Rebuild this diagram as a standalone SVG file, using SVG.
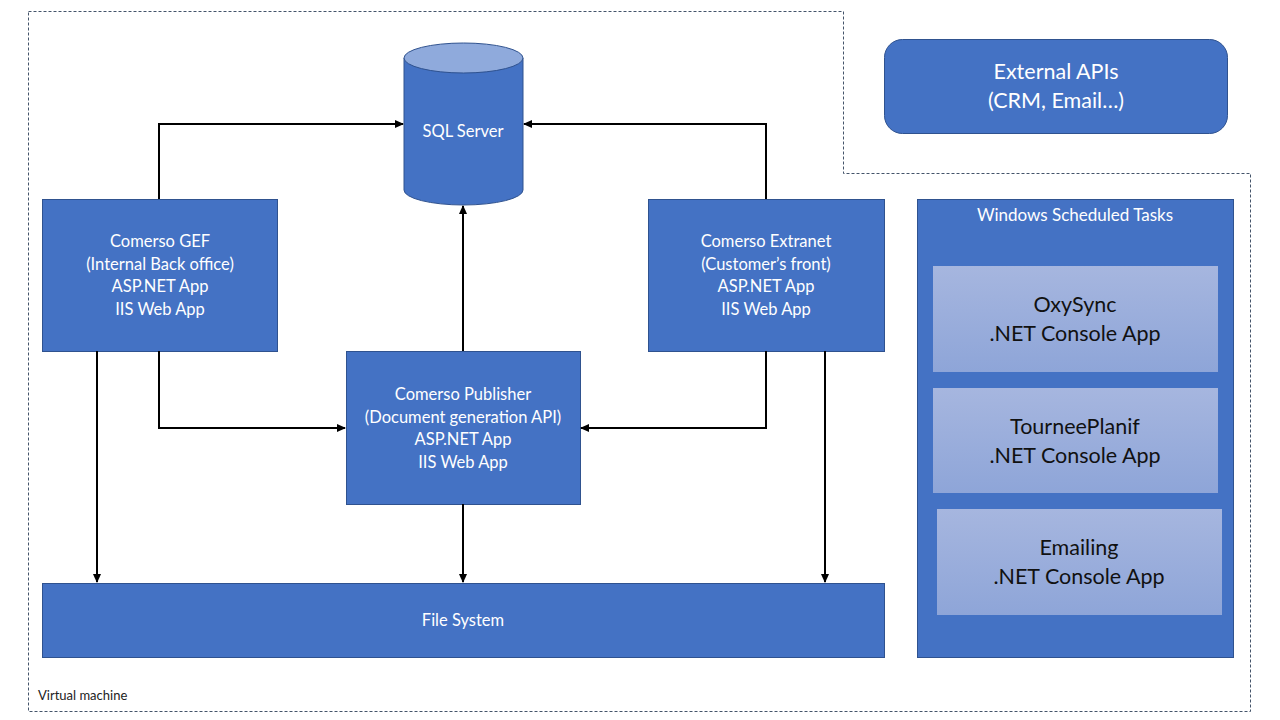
<svg xmlns="http://www.w3.org/2000/svg" width="1280" height="720" viewBox="0 0 1280 720">
<style>
.box{fill:#4472c4;stroke:#2f528f;stroke-width:1}
.wt{fill:#fff;font-family:Lato,"Open Sans",sans-serif;font-size:16.5px;text-anchor:middle}
.big{font-size:21.5px}
.sm{font-size:17px}
.dk{fill:#111;font-family:Lato,"Open Sans",sans-serif;font-size:21.5px;text-anchor:middle}
.con{fill:none;stroke:#000;stroke-width:2;marker-end:url(#ah)}
</style>
<defs>
<marker id="ah" markerWidth="10" markerHeight="10" refX="8" refY="5" orient="auto" markerUnits="userSpaceOnUse">
<path d="M0,1 L9,5 L0,9 Z" fill="#000"/>
</marker>
<linearGradient id="lg" x1="0" y1="0" x2="0" y2="1">
<stop offset="0" stop-color="#a6b6df"/>
<stop offset="1" stop-color="#8ea5d8"/>
</linearGradient>
</defs>
<rect width="1280" height="720" fill="#fff"/>
<g id="vm">
<path d="M28.5,11.5 H843.5 V173.5 H1250.5 V711.5 H28.5 Z" fill="none" stroke="#44546a" stroke-width="1" stroke-dasharray="3,2"/>
<text x="38" y="700" font-family="Lato,'Open Sans',sans-serif" font-size="13" fill="#222">Virtual machine</text>
</g>
<g id="external">
<rect class="box" x="884.5" y="39.5" width="343" height="94" rx="18"/>
<text class="wt big" x="1056" y="79">External APIs</text>
<text class="wt big" x="1056" y="108">(CRM, Email…)</text>
</g>
<g id="sql">
<path class="box" d="M404,58 V190 A59.5,15 0 0 0 523,190 V58"/>
<ellipse cx="463.5" cy="58" rx="59.5" ry="15" fill="#8faadc" stroke="#2f528f"/>
<text class="wt" x="463" y="137">SQL Server</text>
</g>
<g id="gef">
<rect class="box" x="42.5" y="199.5" width="235" height="152"/>
<text class="wt" x="160" y="247">Comerso GEF</text>
<text class="wt" x="160" y="270">(Internal Back office)</text>
<text class="wt" x="160" y="292">ASP.NET App</text>
<text class="wt" x="160" y="315">IIS Web App</text>
</g>
<g id="extranet">
<rect class="box" x="648.5" y="199.5" width="236" height="152"/>
<text class="wt" x="766" y="247">Comerso Extranet</text>
<text class="wt" x="766" y="270">(Customer’s front)</text>
<text class="wt" x="766" y="292">ASP.NET App</text>
<text class="wt" x="766" y="315">IIS Web App</text>
</g>
<g id="publisher">
<rect class="box" x="346.5" y="351.5" width="234" height="153"/>
<text class="wt" x="463" y="400">Comerso Publisher</text>
<text class="wt" x="463" y="423">(Document generation API)</text>
<text class="wt" x="463" y="445">ASP.NET App</text>
<text class="wt" x="463" y="468">IIS Web App</text>
</g>
<g id="filesystem">
<rect class="box" x="42.5" y="583.5" width="842" height="74"/>
<text class="wt" x="463" y="626">File System</text>
</g>
<g id="tasks">
<rect class="box" x="917.5" y="199.5" width="316" height="458"/>
<text class="wt sm" x="1075" y="221">Windows Scheduled Tasks</text>
</g>
<g id="oxysync">
<rect x="933" y="266" width="285" height="106" fill="url(#lg)"/>
<text class="dk" x="1075" y="312">OxySync</text>
<text class="dk" x="1075" y="341">.NET Console App</text>
</g>
<g id="tourneeplanif">
<rect x="933" y="388" width="285" height="105" fill="url(#lg)"/>
<text class="dk" x="1075" y="434">TourneePlanif</text>
<text class="dk" x="1075" y="463">.NET Console App</text>
</g>
<g id="emailing">
<rect x="937" y="509" width="285" height="106" fill="url(#lg)"/>
<text class="dk" x="1079" y="555">Emailing</text>
<text class="dk" x="1079" y="584">.NET Console App</text>
</g>
<g id="connectors">
<path class="con" d="M159,199 V124 H403"/>
<path class="con" d="M766,199 V124 H524"/>
<path class="con" d="M463,351 V206"/>
<path class="con" d="M159,351 V428 H345"/>
<path class="con" d="M766,351 V428 H581"/>
<path class="con" d="M97,351 V582"/>
<path class="con" d="M463,504 V582"/>
<path class="con" d="M825,351 V582"/>
</g>
</svg>
